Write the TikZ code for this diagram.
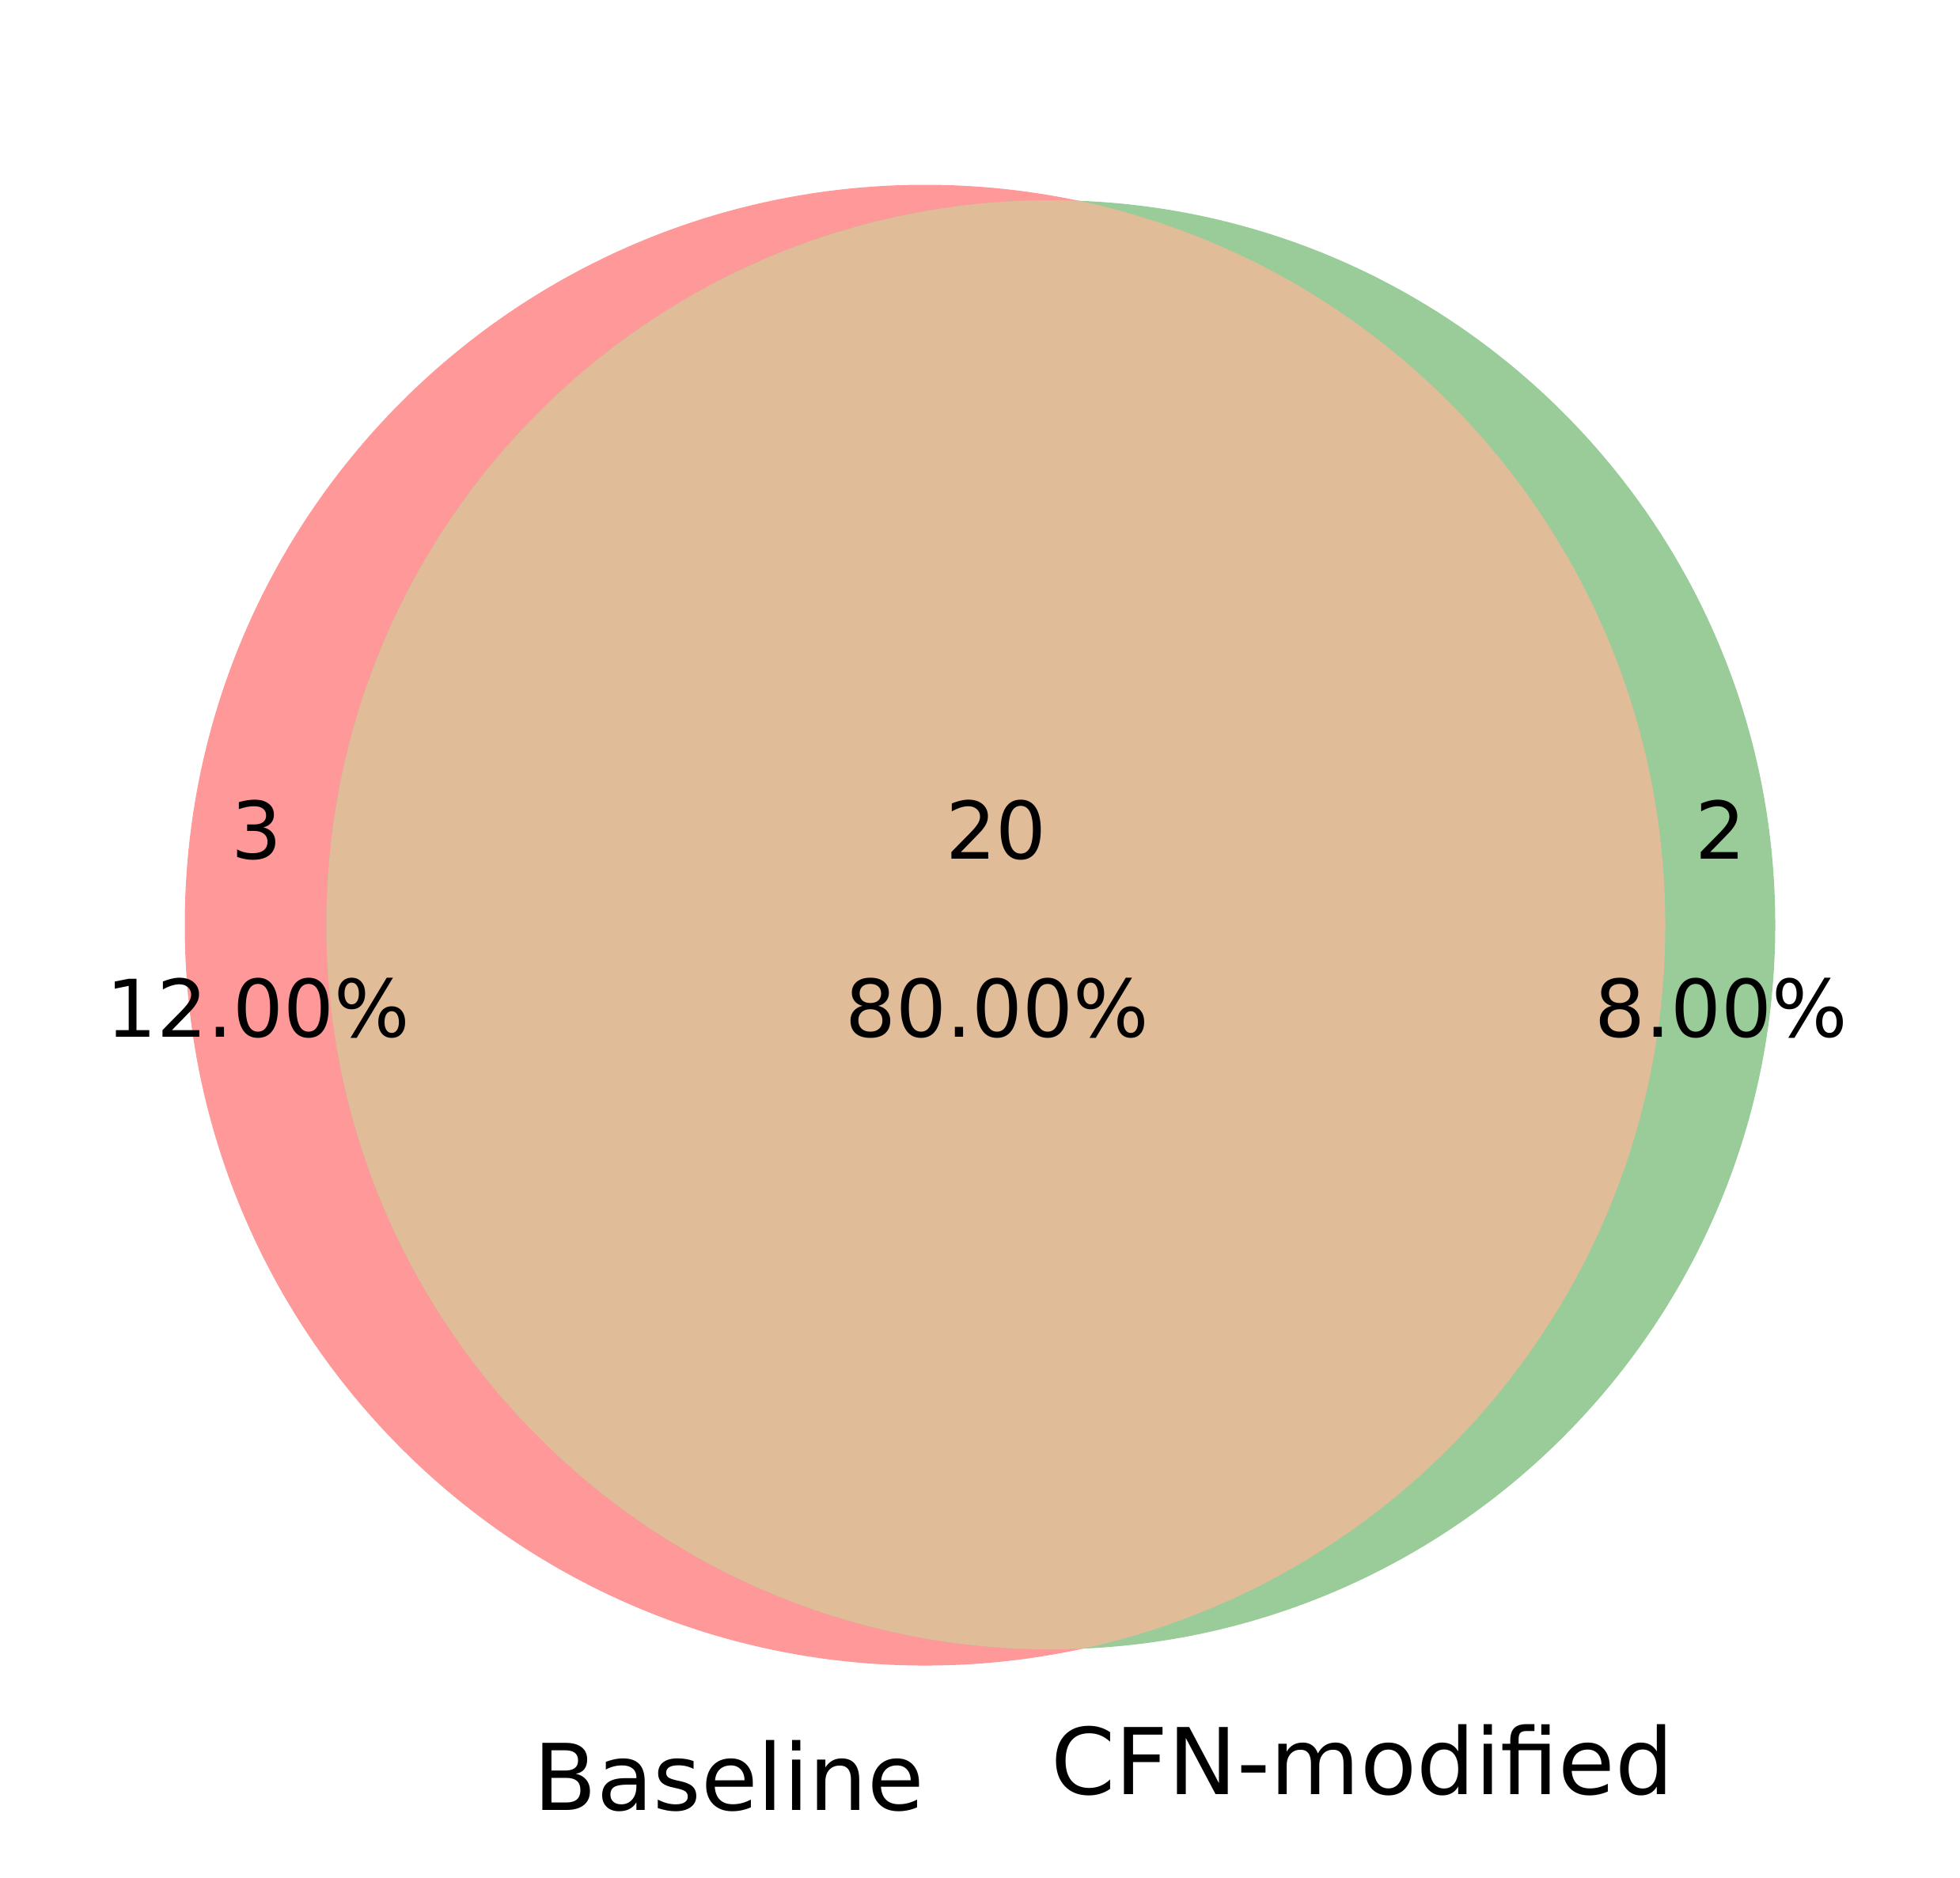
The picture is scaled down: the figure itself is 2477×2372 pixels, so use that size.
\documentclass[tikz,border=0pt]{standalone}
\usepackage{fontspec}
\setmainfont{DejaVu Sans}
\definecolor{setA}{HTML}{FF9999}
\definecolor{setB}{HTML}{9ACC9A}
\definecolor{setAB}{HTML}{E0BC98}
\begin{document}
\begin{tikzpicture}[x=0.1mm,y=-0.1mm,
  lbl/.style={anchor=base,inner sep=0pt,font=\fontsize{28.6}{34}\selectfont},
  setname/.style={anchor=base,inner sep=0pt,font=\fontsize{33.1}{40}\selectfont}]
\useasboundingbox (0,0) rectangle (2477,2372);
\coordinate (cA) at (1169,1169);
\coordinate (cB) at (1328,1168.5);
\fill[setA] (cA) circle[radius=935.5];
\fill[setB] (cB) circle[radius=915.5];
\begin{scope}
  \clip (cA) circle[radius=935.5];
  \fill[setAB] (cB) circle[radius=915.5];
\end{scope}
\node[lbl] (nA) at (324,1085) {3};
\node[lbl] (pA) at (326,1310) {12.00\%};
\node[lbl] (nAB) at (1259,1085) {20};
\node[lbl] (pAB) at (1260,1310) {80.00\%};
\node[lbl] (nB) at (2174,1085) {2};
\node[lbl] (pB) at (2175,1310) {8.00\%};
\node[setname] (lA) at (921,2287) {Baseline};
\node[setname] (lB) at (1722,2267) {CFN-modified};
\end{tikzpicture}
\end{document}
